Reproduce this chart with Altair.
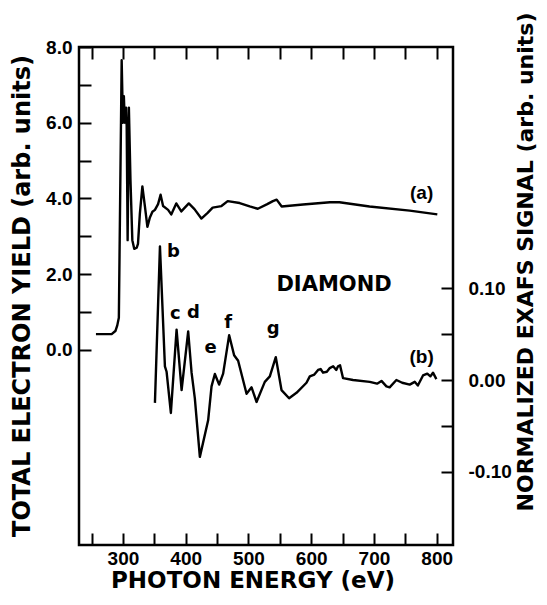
import altair as alt
import pandas as pd

# ---- curve (a): total electron yield (left axis) ----
a_energy = [257, 282, 288, 291, 293.5, 298, 300, 301.5, 303, 305, 306, 307.5, 309.5, 312, 315, 318,
            322, 324, 327, 331, 335, 339, 343, 347, 351, 356, 360, 364, 372, 377, 385, 393, 405,
            414, 425, 435, 443, 457, 467, 486, 502, 515, 530, 539, 545, 553, 587, 630, 645, 693,
            757, 801]
a_yield = [0.42, 0.42, 0.50, 0.65, 0.85, 7.65, 6.0, 6.7, 6.0, 6.4, 5.9, 2.9, 6.4, 4.5, 2.9, 2.67,
           2.7, 2.8, 3.6, 4.32, 3.8, 3.25, 3.5, 3.65, 3.7, 3.85, 4.1, 3.8, 3.7, 3.58, 3.87, 3.66, 3.87,
           3.72, 3.47, 3.62, 3.76, 3.8, 3.93, 3.88, 3.79, 3.73, 3.85, 3.93, 3.97, 3.79, 3.84, 3.9, 3.9, 3.79,
           3.68, 3.58]

# ---- curve (b): normalized EXAFS signal (right axis) ----
b_energy = [351, 359, 366.9, 369.6, 376.4, 385.5, 393.5, 404, 409.4, 414.6, 422.6, 435.8, 441.2,
            446.5, 453.3, 459.7, 469.3, 477.2, 483.6, 497, 505, 512.9, 526.1, 534.1, 543.6, 552.7,
            564.8, 576.6, 592.5, 597.8, 605, 611, 615, 618.9, 625, 629.6, 635, 640, 642.8, 646,
            650.8, 666.7, 693.3, 705, 712, 719.9, 725, 735.8, 745, 757, 765, 770, 778.2, 785, 790,
            794.1, 799.5]
b_exafs = [-0.025, 0.146, 0.015, 0.009, -0.036, 0.055, -0.011, 0.053, 0.008, -0.020, -0.084, -0.044,
           -0.007, 0.0066, -0.005, 0.007, 0.049, 0.027, 0.021, -0.015, -0.008, -0.024, -0.002, 0.004,
           0.025, -0.011, -0.020, -0.014, -0.003, 0.004, 0.006, 0.011, 0.012, 0.008, 0.009, 0.013, 0.015,
           0.011, 0.015, 0.016, 0.002, 0.000, -0.002, -0.004, -0.001, -0.007, -0.008, 0.000, -0.003,
           -0.005, -0.002, -0.006, 0.005, 0.007, 0.004, 0.008, 0.001]

# ---- axes ----
x_ticks = [250, 300, 350, 400, 450, 500, 550, 600, 650, 700, 750, 800]
x_tick_labels = {300: "300", 400: "400", 500: "500", 600: "600", 700: "700", 800: "800"}
left_ticks = [0, 1, 2, 3, 4, 5, 6, 7, 8]
left_tick_labels = {0: "0.0", 2: "2.0", 4: "4.0", 6: "6.0", 8: "8.0"}
right_ticks = [-0.10, -0.05, 0.0, 0.05, 0.10]
right_tick_labels = {-0.10: "-0.10", 0.0: "0.00", 0.10: "0.10"}

# ---- annotations ----
curve_labels = ["(a)", "(b)"]
curve_label_x = [776, 776]
curve_label_y = [4.15, -0.18]
peak_labels = ["b", "c", "d", "e", "f", "g"]
peak_x = [380.3, 383.5, 412.2, 439.9, 467.9, 539.6]
peak_y = [2.6, 0.95, 0.97, 0.05, 0.70, 0.55]
sample_label = ["DIAMOND"]
sample_x = [636.4]
sample_y = [1.72]


def label_expr(mapping):
    expr = "''"
    for v, lab in sorted(mapping.items(), reverse=True):
        expr = f"abs(datum.value - ({v})) < 1e-9 ? '{lab}' : ({expr})"
    return expr


X_DOMAIN = [230, 826]
LEFT_DOMAIN = [-5.149, 8.0]
RIGHT_DOMAIN = [-0.1803, 0.3639]

xs = alt.Scale(domain=X_DOMAIN, nice=False, zero=False)

tick_font = dict(labelFont="Liberation Sans", labelFontWeight="bold", labelFontSize=19,
                 labelColor="black", labelFlush=False, labelOverlap=False,
                 tickColor="black", tickWidth=2, tickSize=12, offset=-12,
                 domain=False, grid=False)
title_font = dict(titleFont="DejaVu Sans", titleFontWeight="bold", titleColor="black",
                  titleAlign="center", titleBaseline="middle")

df_a = pd.DataFrame({"energy": a_energy, "yield": a_yield})
df_b = pd.DataFrame({"energy": b_energy, "exafs": b_exafs})

line_a = alt.Chart(df_a).mark_line(color="black", strokeWidth=2.4, strokeJoin="round").encode(
    x=alt.X("energy:Q", scale=xs,
            axis=alt.Axis(orient="bottom", values=x_ticks, labelExpr=label_expr(x_tick_labels),
                          labelPadding=4, title="PHOTON ENERGY (eV)", titleX=173.5, titleY=47.5,
                          titleAngle=0, titleFontSize=23, **tick_font, **title_font)),
    y=alt.Y("yield:Q", scale=alt.Scale(domain=LEFT_DOMAIN, nice=False, zero=False),
            axis=alt.Axis(orient="left", values=left_ticks, labelExpr=label_expr(left_tick_labels),
                          labelPadding=7, title="TOTAL ELECTRON YIELD (arb. units)",
                          titleX=-69, titleY=248.5, titleAngle=270, titleFontSize=24,
                          **tick_font, **title_font)),
)

line_b = alt.Chart(df_b).mark_line(color="black", strokeWidth=2.4, strokeJoin="round").encode(
    x=alt.X("energy:Q", scale=xs,
            axis=alt.Axis(orient="top", values=x_ticks, labels=False, title=None,
                          tickColor="black", tickWidth=2, tickSize=12, offset=-12,
                          domain=False, grid=False)),
    y=alt.Y("exafs:Q", scale=alt.Scale(domain=RIGHT_DOMAIN, nice=False, zero=False),
            axis=alt.Axis(orient="right", values=right_ticks, labelExpr=label_expr(right_tick_labels),
                          labelPadding=15, title="NORMALIZED EXAFS SIGNAL (arb. units)",
                          titleX=84, titleY=214.5, titleAngle=270, titleFontSize=22,
                          **tick_font, **title_font)),
)


def text_layer(labels, xv, yv, font, size):
    df = pd.DataFrame({"label": labels, "energy": xv, "yield": yv})
    return alt.Chart(df).mark_text(font=font, fontWeight="bold", fontSize=size, color="black",
                                   align="center", baseline="middle").encode(
        x=alt.X("energy:Q", scale=xs, axis=None),
        y=alt.Y("yield:Q", scale=alt.Scale(domain=LEFT_DOMAIN, nice=False, zero=False), axis=None),
        text="label:N",
    )


t_curves = text_layer(curve_labels, curve_label_x, curve_label_y, "Liberation Sans", 19)
t_peaks = text_layer(peak_labels, peak_x, peak_y, "DejaVu Sans", 18)
t_sample = text_layer(sample_label, sample_x, sample_y, "DejaVu Sans", 21)

chart = alt.layer(line_a, line_b, t_curves, t_peaks, t_sample).resolve_scale(
    y="independent"
).resolve_axis(
    x="independent", y="independent"
).properties(
    width=374, height=498,
    autosize=alt.AutoSizeParams(type="none"),
    padding={"left": 71, "top": 39, "right": 86, "bottom": 48},
    background="white",
).configure_view(stroke="black", strokeWidth=2.5)

chart.save("out.html", embed_options={"renderer": "svg", "actions": False})
